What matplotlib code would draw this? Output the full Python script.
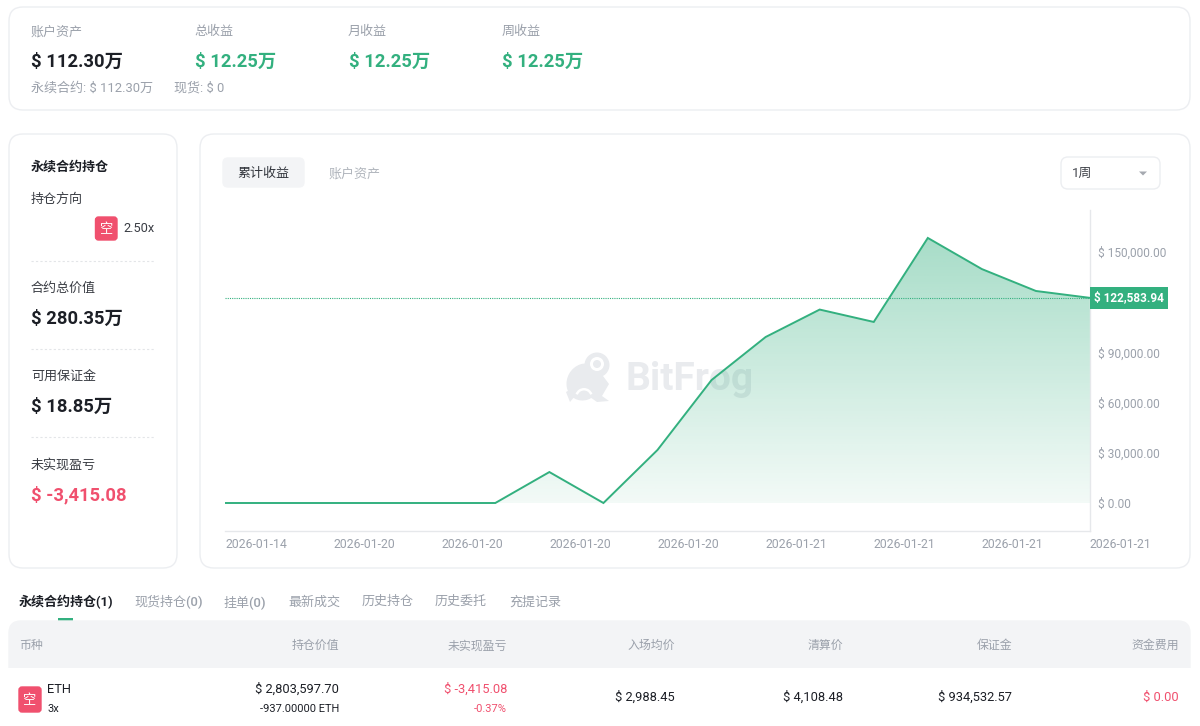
import numpy as np
import matplotlib
matplotlib.use("Agg")
import matplotlib.pyplot as plt
from matplotlib.patches import FancyBboxPatch, Rectangle, Circle, Ellipse, Polygon, Wedge

FONT = ['Roboto', 'Noto Sans CJK SC', 'DejaVu Sans']
plt.rcParams['font.family'] = FONT

GREEN = '#33b07f'
RED = '#f0506e'
DARK = '#1c1f26'
GRAY = '#9ba1ab'
LINE = '#eceef1'
PANEL = '#f3f4f6'

# chart data
dates = ['2026-01-14', '2026-01-20', '2026-01-20', '2026-01-20', '2026-01-20',
         '2026-01-21', '2026-01-21', '2026-01-21', '2026-01-21']
profit = [0, 0, 0, 0, 0, 0, 18500, 0, 31700, 73500, 99200, 115600, 108200,
          158400, 139800, 126700, 122583.94]
# the 120,000 label sits behind the last value tag in the reference
y_ticks = [0, 30000, 60000, 90000, 150000]
last_label = '$ 122,583.94'

# summary cards
summary_titles = ['账户资产', '总收益', '月收益', '周收益']
summary_values = ['$ 112.30万', '$ 12.25万', '$ 12.25万', '$ 12.25万']
side_titles = ['合约总价值', '可用保证金', '未实现盈亏']
side_values = ['$ 280.35万', '$ 18.85万', '$ -3,415.08']

# table
tabs = ['永续合约持仓(1)', '现货持仓(0)', '挂单(0)', '最新成交', '历史持仓', '历史委托', '充提记录']
columns = ['持仓价值', '未实现盈亏', '入场均价', '清算价', '保证金', '资金费用']
row_top = ['$ 2,803,597.70', '$ -3,415.08']
row_sub = ['-937.00000 ETH', '-0.37%']
row_mid = ['$ 2,988.45', '$ 4,108.48', '$ 934,532.57', '$ 0.00']

W, H = 1200, 726
fig = plt.figure(figsize=(W / 100, H / 100), dpi=100, facecolor='white')

# background layer in pixel coordinates
bg = fig.add_axes([0, 0, 1, 1], zorder=0)
bg.set_xlim(0, W)
bg.set_ylim(H, 0)
bg.axis('off')


def card(x0, y0, x1, y1, r=14, fc='white', ec=LINE, lw=1.0):
    return bg.add_patch(FancyBboxPatch((x0 + r, y0 + r), x1 - x0 - 2 * r, y1 - y0 - 2 * r,
                                       boxstyle=f'round,pad={r},rounding_size={r}',
                                       fc=fc, ec=ec, lw=lw))


def txt(x, y, s, size=9.4, color=DARK, weight='normal', ha='left', z=3):
    bg.text(x, y + 0.8, s, fontsize=size, color=color, fontweight=weight, ha=ha, va='center', zorder=z)


def badge(x0, y0, x1, y1, z=3):
    card(x0, y0, x1, y1, r=3, fc=RED, ec=RED).set_zorder(z)
    txt((x0 + x1) / 2, (y0 + y1) / 2, '空', size=9.5, color='white', ha='center', z=z + 1)


card(9, 7, 1190, 110)
card(9, 134, 177, 568)
card(200, 134, 1190, 568)

# top summary
for x, title, value, i in zip([31, 194, 348, 501.5], summary_titles, summary_values, range(4)):
    txt(x, 31, title, color=GRAY)
    txt(x + (1 if i else 0), 61, value, size=13.2, color=DARK if i == 0 else GREEN, weight='bold')
txt(31, 87, '永续合约: $ 112.30万', color=GRAY)
txt(174.5, 87, '现货: $ 0', color=GRAY)

# left panel
txt(31, 166, '永续合约持仓', weight='bold')
txt(31, 199, '持仓方向', color='#3a3d44')
badge(95.5, 217, 117, 240)
txt(155, 228, '2.50x', size=9.2, color='#3a3d44', ha='right')
for y in [261, 349, 437]:
    bg.plot([31, 155], [y, y], color='#e3e5e8', lw=0.8, ls=(0, (2, 2)))
for y, title, value, color in zip([288, 376, 464], side_titles, side_values, [DARK, DARK, RED]):
    txt(31, y, title, color='#3a3d44')
    txt(31, y + 30, value, size=13.2, color=color, weight='bold')

# chart header
card(223, 158, 304, 187, r=5, fc=PANEL, ec=PANEL)
txt(263.5, 173, '累计收益', ha='center', color='#33363d')
txt(355, 173, '账户资产', color='#b0b5bc', ha='center')
card(1061, 157, 1160, 189, r=7)
txt(1072, 173, '1周', color='#44474e')
bg.add_patch(Polygon([[1139, 171.5], [1147, 171.5], [1143, 175.5]], fc='#a5a9b0', ec='none'))

# watermark
wm = '#e9ebee'
bg.add_patch(Ellipse((584, 382), 34, 38, angle=30, fc=wm, ec='none'))
bg.add_patch(Polygon([[600, 372], [609, 384], [602, 396], [609, 401], [597, 402], [580, 390], [570, 402], [566, 392]],
                     fc=wm, ec='none'))
bg.add_patch(Circle((597, 365), 12.5, fc=wm, ec='none'))
bg.add_patch(Circle((597, 364), 7, fc='white', ec='none'))
bg.add_patch(Circle((597, 364), 4, fc=wm, ec='none'))
bg.add_patch(Wedge((584, 397), 9, 200, 340, width=2.5, fc='white', ec='none'))
txt(626, 379, 'BitFrog', size=28, color=wm, weight='bold')

# bottom tabs
tab_x = [19, 134, 223, 288, 362, 435, 509]
for i, (x, s) in enumerate(zip(tab_x, tabs)):
    txt(x, 601, s, color=DARK if i == 0 else GRAY, weight='bold' if i == 0 else 'medium')
bg.add_patch(Rectangle((58, 618), 15, 3, fc=GREEN, ec='none'))

# table header and row
card(9, 621, 1190, 690, r=12, fc=PANEL, ec=PANEL)
bg.add_patch(Rectangle((8, 668), 1184, 30, fc='white', ec='none', zorder=2))
txt(19, 645, '币种', size=8.6, color=GRAY)
col_x = [339, 507, 675, 843, 1012, 1179]
for x, s in zip(col_x, columns):
    txt(x, 645, s, size=8.6, color=GRAY, ha='right')

badge(19, 687, 41, 712)
txt(47, 689, 'ETH', size=9.3)
txt(47, 708, '3x', size=8)
for x, top, sub, c in zip(col_x[:2], row_top, row_sub, [DARK, RED]):
    txt(x, 688.5, top, size=9.3, color=c, ha='right')
    txt(x, 708, sub, size=8, color=c, ha='right')
for x, s, c in zip(col_x[2:], row_mid, [DARK, DARK, DARK, RED]):
    txt(x, 696.5, s, size=9.3, color=c, ha='right')

# chart axes: x 225-1090, y 210-531 px, zero at 503, 150000 at 252
left, right, top, bottom = 225, 1090, 210, 531
px_per_unit = (503 - 252) / 150000
ax = fig.add_axes([left / W, 1 - bottom / H, (right - left) / W, (bottom - top) / H], zorder=1)
ax.patch.set_alpha(0)

x = np.arange(len(profit))
y = np.array(profit, dtype=float)
ymin = -(bottom - 503) / px_per_unit
ymax = (503 - top) / px_per_unit

# gradient fill under the line
grad = np.zeros((256, 2, 4))
grad[..., 0], grad[..., 1], grad[..., 2] = 0.2, 0.69, 0.5
grad[..., 3] = np.linspace(0.43, 0.06, 256)[:, None]
img = ax.imshow(grad, extent=[x[0], x[-1], 0, max(profit)], aspect='auto', origin='upper', zorder=1)
clip = Polygon(np.column_stack([np.r_[x[0], x, x[-1]], np.r_[0, y, 0]]), transform=ax.transData,
               fc='none', ec='none')
ax.add_patch(clip)
img.set_clip_path(clip)

ax.plot(x, y, color=GREEN, lw=1.4, zorder=3, solid_joinstyle='miter')
ax.axhline(profit[-1], color=GREEN, lw=0.8, ls=(0, (1, 1)), zorder=2)

ax.set_xlim(x[0], x[-1])
ax.set_ylim(ymin, ymax)

ax.yaxis.tick_right()
ax.set_yticks(y_ticks)
ax.set_yticklabels([f'$ {t:,.2f}' for t in y_ticks], fontsize=8.6, color=GRAY)
ax.set_xticks(x[::2])
ax.set_xticklabels(dates, fontsize=8.8, color=GRAY, ha='left')
ax.tick_params(axis='both', length=0)
ax.tick_params(axis='y', pad=5.5)
ax.tick_params(axis='x', pad=5)
for s in ['top', 'left']:
    ax.spines[s].set_visible(False)
for s in ['right', 'bottom']:
    ax.spines[s].set_color('#e6e8eb')
    ax.spines[s].set_linewidth(1)

# last value tag
ax.annotate(last_label, xy=(1, profit[-1]), xycoords=('axes fraction', 'data'),
            xytext=(39, 0), textcoords='offset pixels', ha='center', va='center',
            fontsize=8.5, color='white', fontweight='bold', zorder=6, annotation_clip=False,
            bbox=dict(boxstyle='square,pad=0.36', fc=GREEN, ec=GREEN, lw=0))

fig.savefig('out.png', dpi=100)
